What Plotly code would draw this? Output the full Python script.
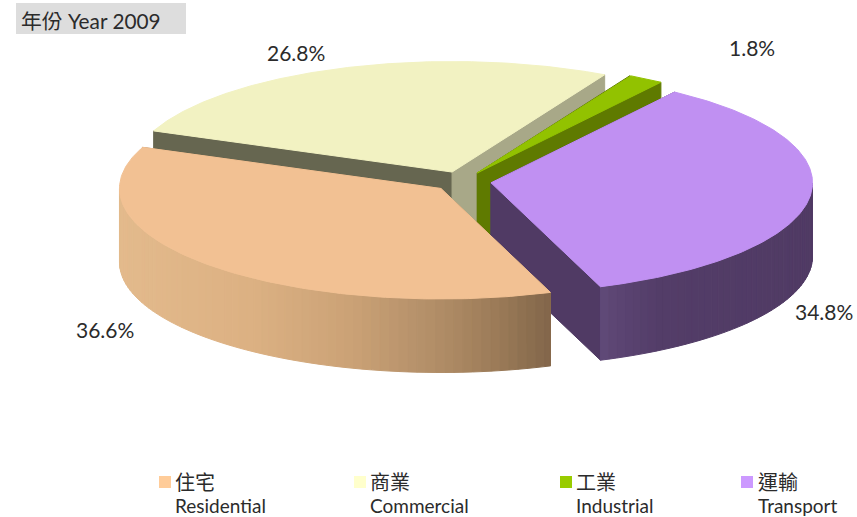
import numpy as np
import plotly.graph_objects as go

# ---- data ----
names_zh = ["住宅", "商業", "工業", "運輸"]
names_en = ["Residential", "Commercial", "Industrial", "Transport"]
shares = [36.6, 26.8, 1.8, 34.8]
title_text = "年份 Year 2009"

# ---- style / layout ----
W, H = 857, 517
CX, CY, RX, RY, DEPTH = 462, 181.5, 321.5, 110.5, 73.5
EXPLODE = 0.091
FONT = "Lato, Noto Sans CJK TC, sans-serif"
INK = "#2B2B2B"
top_col = ["#F2C193", "#F2F2C2", "#92C200", "#C090F2"]
legend_col = ["#FFCC99", "#FFFFCC", "#99CC00", "#CC99FF"]
cut_start = ["#A8855F", "#666650", "#5F7A00", "#503A64"]
cut_end = ["#A8855F", "#A8A888", "#5F7A00", "#503A64"]
rim_stops = [
    [(119, "#E3BA8C"), (250, "#DCB183"), (350, "#CBA276"), (400, "#BC966E"),
     (450, "#AD8A64"), (500, "#9A7A57"), (551, "#82664A")],
    None, None,
    [(600, "#604A78"), (625, "#5A4371"), (660, "#533D68"), (812, "#503A64")],
]
START_DEG = -70.1
label_xy = [(105, 329.5), (296, 52.5), (752, 47.5), (824, 311.5)]
legend_marker_x = [165, 360, 566, 747]
legend_text_x = [175, 370, 576, 758]
legend_y = [482, 505.5]


def hexrgb(c):
    return np.array([int(c[i:i + 2], 16) for i in (1, 3, 5)], float)


def mix(stops, x):
    xs = [s[0] for s in stops]
    cols = np.array([hexrgb(s[1]) for s in stops])
    rgb = [np.interp(x, xs, cols[:, k]) for k in range(3)]
    return "rgb(%d,%d,%d)" % tuple(round(v) for v in rgb)


def poly(fig, xs, ys, color):
    fig.add_trace(go.Scatter(
        x=list(xs), y=list(ys), mode="lines", fill="toself", fillcolor=color,
        line=dict(color=color, width=1), hoverinfo="skip", showlegend=False))


fig = go.Figure()

total = sum(shares)
spans = [s / total * 2 * np.pi for s in shares]
starts = [np.deg2rad(START_DEG)]
for sp in spans[:-1]:
    starts.append(starts[-1] - sp)

paint_order = [1, 2, 3, 0]
for i in paint_order:
    t0, t1 = starts[i], starts[i] - spans[i]
    mid = (t0 + t1) / 2
    ox = CX + EXPLODE * RX * np.cos(mid)
    oy = CY - EXPLODE * RY * np.sin(mid)
    px = lambda t: ox + RX * np.cos(t)
    py = lambda t: oy - RY * np.sin(t)

    for t, col in ((t0, cut_start[i]), (t1, cut_end[i])):
        poly(fig, [ox, px(t), px(t), ox, ox],
             [oy, py(t), py(t) + DEPTH, oy + DEPTH, oy], col)

    if rim_stops[i] is not None:
        ts = np.linspace(t1, t0, 241)
        ts = ts[np.sin(ts) <= 0.001]
        step = 3
        for a in range(0, len(ts) - 1, step):
            seg = ts[a:a + step + 1]
            xs = px(seg)
            ys = py(seg)
            col = mix(rim_stops[i], xs.mean())
            poly(fig, np.r_[xs, xs[::-1], xs[0]], np.r_[ys, ys[::-1] + DEPTH, ys[0]], col)

    ts = np.linspace(t0, t1, 160)
    poly(fig, np.r_[ox, px(ts), ox], np.r_[oy, py(ts), oy], top_col[i])

fig.add_trace(go.Scatter(
    x=legend_marker_x, y=[legend_y[0]] * 4, mode="markers",
    marker=dict(symbol="square", size=12, color=legend_col, line=dict(width=0)),
    hoverinfo="skip", showlegend=False))

notes = []
for i in range(4):
    notes.append(dict(x=label_xy[i][0], y=label_xy[i][1], text=f"{shares[i]:.1f}%",
                      xanchor="center", yanchor="middle", font=dict(size=21)))
    notes.append(dict(x=legend_text_x[i], y=legend_y[0], text=names_zh[i],
                      xanchor="left", yanchor="middle", font=dict(size=20)))
    notes.append(dict(x=legend_text_x[i], y=legend_y[1], text=names_en[i],
                      xanchor="left", yanchor="middle", font=dict(size=19)))
notes.append(dict(x=21, y=20.5, text=title_text, xanchor="left", yanchor="middle", font=dict(size=20.8)))
for n in notes:
    n.update(xref="x", yref="y", showarrow=False, borderpad=0, borderwidth=0)
    n["font"].update(family=FONT, color=INK)

fig.update_layout(
    width=W, height=H, margin=dict(l=0, r=0, t=0, b=0),
    paper_bgcolor="white", plot_bgcolor="white", showlegend=False,
    xaxis=dict(range=[0, W], visible=False, fixedrange=True),
    yaxis=dict(range=[H, 0], visible=False, fixedrange=True),
    annotations=notes,
    shapes=[dict(type="rect", xref="x", yref="y", x0=16, x1=186, y0=3, y1=34,
                 fillcolor="#DDDDDD", line=dict(width=0), layer="below")],
)
fig.write_html("out.html", config={"displayModeBar": False},
               post_script="document.body.style.margin='0';document.documentElement.style.overflow='hidden';")
